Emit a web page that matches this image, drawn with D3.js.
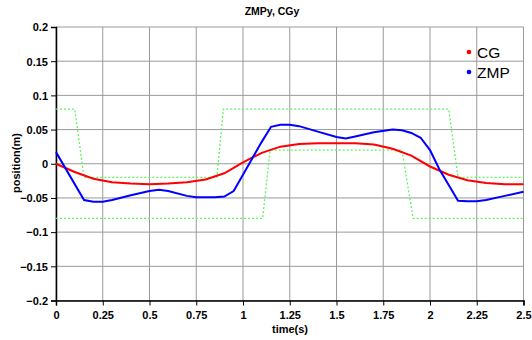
<!DOCTYPE html>
<html><head><meta charset="utf-8">
<script src="https://cdn.jsdelivr.net/npm/d3@7"></script>
<style>body{margin:0;background:#fff}svg{display:block}</style>
</head><body>
<svg id="c" width="532" height="340"></svg>
<script>
const title = "ZMPy, CGy";
const xTicks = [0, 0.25, 0.5, 0.75, 1, 1.25, 1.5, 1.75, 2, 2.25, 2.5];
const yTicks = [-0.2, -0.15, -0.1, -0.05, 0, 0.05, 0.1, 0.15, 0.2];
const cgT = [0,0.1,0.2,0.3,0.4,0.5,0.6,0.7,0.8,0.9,1.0,1.1,1.2,1.3,1.4,1.5,1.6,1.7,1.8,1.9,2.0,2.1,2.2,2.3,2.4,2.5];
const cgV = [0,-0.012,-0.022,-0.027,-0.029,-0.030,-0.029,-0.027,-0.023,-0.014,0.002,0.016,0.025,0.029,0.030,0.030,0.030,0.028,0.022,0.012,-0.004,-0.016,-0.024,-0.028,-0.030,-0.030];
const zmpT = [0,0.15,0.2,0.25,0.3,0.4,0.5,0.55,0.6,0.7,0.75,0.85,0.9,0.95,1.0,1.05,1.1,1.15,1.2,1.25,1.3,1.4,1.5,1.55,1.6,1.7,1.8,1.85,1.9,1.95,2.0,2.05,2.1,2.15,2.2,2.25,2.3,2.4,2.5];
const zmpV = [0.017,-0.053,-0.0555,-0.0555,-0.053,-0.046,-0.040,-0.038,-0.040,-0.047,-0.049,-0.049,-0.048,-0.040,-0.016,0.008,0.032,0.054,0.057,0.057,0.055,0.047,0.039,0.037,0.040,0.046,0.050,0.049,0.045,0.038,0.020,-0.008,-0.031,-0.054,-0.055,-0.055,-0.053,-0.047,-0.041];
const upperT = [0,0.1,0.15,0.86,0.895,2.1,2.15,2.5];
const upperV = [0.08,0.08,-0.02,-0.02,0.08,0.08,-0.02,-0.02];
const lowerT = [0,1.105,1.145,1.85,1.91,2.5];
const lowerV = [-0.08,-0.08,0.02,0.02,-0.08,-0.08];
const legendNames = ["CG","ZMP"];
const legendColors = ["#ff0000","#0000ff"];

const svg = d3.select("#c");
const x = d3.scaleLinear().domain([0,2.5]).range([56,523.5]);
const y = d3.scaleLinear().domain([-0.2,0.2]).range([300.5,27]);
const fmt = d => d3.format("")(+d.toFixed(2));

// grid
const g = svg.append("g");
g.selectAll(".gx").data(xTicks).enter().append("line")
  .attr("x1",d=>x(d)).attr("x2",d=>x(d)).attr("y1",y(-0.2)).attr("y2",y(0.2))
  .attr("stroke","#9a9a9a").attr("stroke-width",1);
g.selectAll(".gy").data(yTicks).enter().append("line")
  .attr("y1",d=>y(d)).attr("y2",d=>y(d)).attr("x1",x(0)).attr("x2",x(2.5))
  .attr("stroke","#9a9a9a").attr("stroke-width",1);

// axes
const xAxis = d3.axisBottom(x).tickValues(xTicks).tickSize(5).tickFormat(fmt);
const yAxis = d3.axisLeft(y).tickValues(yTicks).tickSize(5).tickFormat(fmt);
const ax = svg.append("g").attr("transform",`translate(0,${y(-0.2)})`).call(xAxis);
const ay = svg.append("g").attr("transform",`translate(${x(0)},0)`).call(yAxis);
[ax,ay].forEach(a=>{
  a.select(".domain").attr("stroke","#000").attr("stroke-width",1.5);
  a.selectAll(".tick line").attr("stroke","#000");
  a.selectAll("text").attr("font-family","Liberation Sans, Arial, sans-serif")
   .attr("font-size",11).attr("font-weight","bold").attr("fill","#000");
});
ax.selectAll("text").attr("dy","0.95em");
ay.selectAll("text").attr("x",-8).attr("dy","0.35em");

// data lines
const line = d3.line().x(d=>x(d[0])).y(d=>y(d[1]));
const zip = (a,b)=>a.map((t,i)=>[t,b[i]]);
svg.append("path").datum(zip(upperT,upperV)).attr("d",line)
  .attr("fill","none").attr("stroke","#5cf55c").attr("stroke-width",1.3).attr("stroke-dasharray","2,2");
svg.append("path").datum(zip(lowerT,lowerV)).attr("d",line)
  .attr("fill","none").attr("stroke","#5cf55c").attr("stroke-width",1.3).attr("stroke-dasharray","2,2");
svg.append("path").datum(zip(cgT,cgV)).attr("d",line)
  .attr("fill","none").attr("stroke","#ff0000").attr("stroke-width",2);
svg.append("path").datum(zip(zmpT,zmpV)).attr("d",line)
  .attr("fill","none").attr("stroke","#0000ff").attr("stroke-width",2);

// title & labels
svg.append("text").attr("x",272).attr("y",15).attr("text-anchor","middle")
  .attr("font-family","Liberation Sans, Arial, sans-serif").attr("font-size",10.5).attr("font-weight","bold")
  .text(title);
svg.append("text").attr("x",290).attr("y",333).attr("text-anchor","middle")
  .attr("font-family","Liberation Sans, Arial, sans-serif").attr("font-size",11).attr("font-weight","bold")
  .text("time(s)");
svg.append("text").attr("transform","translate(20,163) rotate(-90)").attr("text-anchor","middle")
  .attr("font-family","Liberation Sans, Arial, sans-serif").attr("font-size",11).attr("font-weight","bold")
  .text("position(m)");

// legend
const lg = svg.append("g");
legendNames.forEach((n,i)=>{
  lg.append("circle").attr("cx",469).attr("cy",52+i*20).attr("r",2.3).attr("fill",legendColors[i]);
  lg.append("text").attr("x",477).attr("y",57.5+i*20)
    .attr("font-family","Liberation Sans, Arial, sans-serif").attr("font-size",15.5).attr("fill","#000").text(n);
});
</script>
</body></html>
